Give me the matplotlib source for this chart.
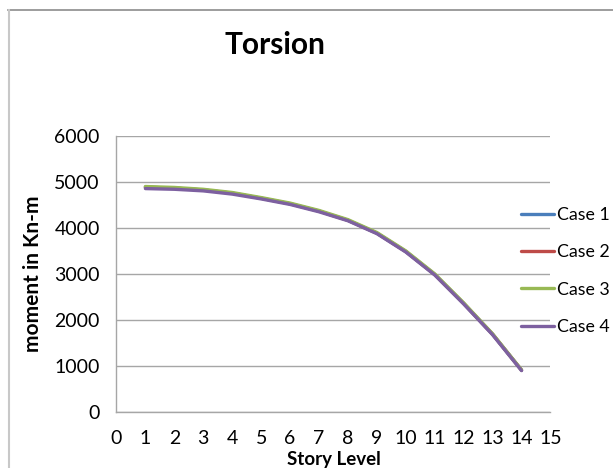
import numpy as np
import matplotlib
matplotlib.use('Agg')
from matplotlib import pyplot as plt
from matplotlib.lines import Line2D

# story levels and torsion moment (Kn-m)
story = [1, 2, 3, 4, 5, 6, 7, 8, 9, 10, 11, 12, 13, 14]
case1 = [4890, 4870, 4830, 4760, 4650, 4530, 4370, 4170, 3890, 3490, 2990, 2360, 1690, 910]
case2 = [4890, 4870, 4830, 4760, 4650, 4530, 4370, 4170, 3890, 3490, 2990, 2360, 1690, 910]
case3 = [4905, 4885, 4845, 4775, 4665, 4545, 4385, 4185, 3905, 3505, 3005, 2375, 1700, 915]
case4 = [4860, 4845, 4810, 4740, 4635, 4515, 4355, 4160, 3880, 3480, 2980, 2350, 1680, 900]
labels = ['Case 1', 'Case 2', 'Case 3', 'Case 4']
colors = ['#4a7ebb', '#be4b48', '#98b954', '#7d60a0']

plt.rcParams['font.family'] = ['Lato', 'DejaVu Sans']


def main():
    fig, ax = setup_figure()
    for y, lab, c in zip([case1, case2, case3, case4], labels, colors):
        ax.plot(story, y, color=c, lw=2.4, label=lab, solid_capstyle='round')
    fig.legend(loc='center left', bbox_to_anchor=(0.838, 0.421), frameon=False,
               fontsize=12.8, handlelength=1.85, handletextpad=0.2,
               labelspacing=1.2, borderaxespad=0)
    plt.savefig('out.png', dpi=100)


def setup_figure():
    fig = plt.figure(figsize=(6.13, 4.68), dpi=100)
    ax = fig.add_axes([0.190, 0.1197, 0.708, 0.5893])
    ax.set_xlim(0, 15)
    ax.set_ylim(0, 6000)
    ax.set_xticks(range(0, 16))
    ax.set_yticks(range(0, 7000, 1000))
    ax.grid(axis='y', color='#a6a6a6', lw=1)
    ax.set_axisbelow(True)
    for s in ['top', 'right']:
        ax.spines[s].set_visible(False)
    for s in ['left', 'bottom']:
        ax.spines[s].set_color('#a6a6a6')
        ax.spines[s].set_linewidth(1)
    ax.tick_params(axis='both', length=0, labelsize=14)
    ax.tick_params(axis='x', pad=13)
    ax.tick_params(axis='y', pad=12)
    ax.set_xlabel('Story Level', fontsize=13.5, fontweight='bold', va='center')
    ax.xaxis.set_label_coords(0.5, -0.172)
    ax.set_ylabel('moment in Kn-m', fontsize=15, fontweight='bold', labelpad=8)
    fig.text(0.449, 0.903, 'Torsion', fontsize=21.5, fontweight='bold', ha='center', va='center')
    # chart area border
    fig.add_artist(Line2D([0.013, 1.0], [0.979, 0.979], color='#8c8c8c', lw=1.2))
    fig.add_artist(Line2D([0.015, 0.015], [0.0, 0.979], color='#c8c8c8', lw=1.5))
    return fig, ax


main()
